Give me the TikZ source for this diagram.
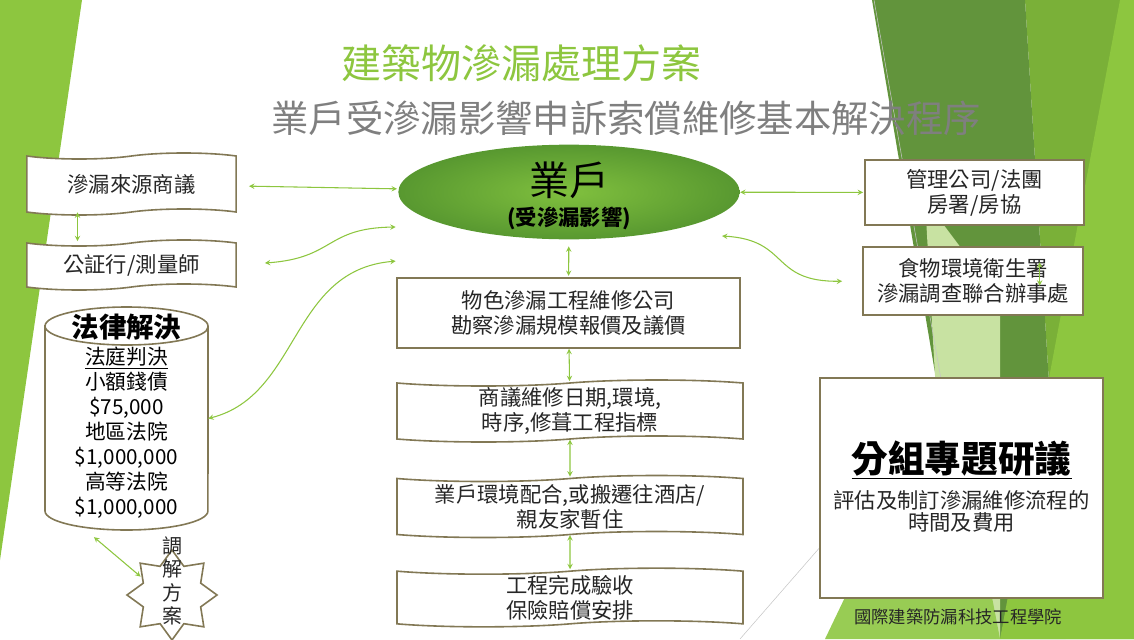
\documentclass[tikz,border=0pt]{standalone}
\usepackage{fontspec}
\setmainfont{Noto Sans CJK TC}
\usetikzlibrary{arrows, positioning, shapes.geometric, shapes.symbols}

\definecolor{leaf}{RGB}{141,198,63}
\definecolor{midleaf}{RGB}{122,176,56}
\definecolor{darkleaf}{RGB}{98,148,60}
\definecolor{paleleaf}{RGB}{200,226,162}
\definecolor{softleaf}{RGB}{152,204,84}
\definecolor{khaki}{RGB}{130,120,85}
\definecolor{ink}{RGB}{38,38,38}
\definecolor{slate}{RGB}{127,127,127}

\begin{document}
\begin{tikzpicture}[
	x = 0.75pt, y = -0.75pt, % one unit = one pixel of the slide
	> = stealth, % arrow head style
	shorten > = 1pt, % don't touch arrow head to node
	semithick % line style
	]
	
	\tikzstyle{box}=[
	draw = khaki,
	line width = 1.2pt,
	fill = white,
	text = ink,
	align = center,
	inner sep = 0pt,
	font = \fontsize{16}{18.75}\selectfont
	]
	\tikzstyle{wave}=[box, tape, tape bend height = 4.5pt]
	\tikzstyle{link}=[<->, color = leaf, line width = 0.8pt]
	
	\useasboundingbox (0,0) rectangle (1134,639);
	
	% background facets
	\fill[leaf] (0,0) -- (82,0) -- (0,560) -- cycle;
	\fill[midleaf] (1025,0) -- (1134,0) -- (1134,639) -- (1065,639) -- cycle;
	\fill[darkleaf] (872,0) -- (1025,0) -- (1065,639) -- (980,639) -- cycle;
	\fill[paleleaf] (925,200) -- (1000,300) -- (1000,639) -- (950,639) -- cycle;
	\fill[softleaf] (825,639) -- (950,378) -- (1000,639) -- cycle;
	\fill[leaf] (1120,0) -- (1134,0) -- (1134,639) -- (1000,639) -- cycle;
	\draw[gray!45, line width = 0.4pt] (874,0) -- (950,430);
	\draw[gray!45, line width = 0.4pt] (740,639) -- (835,530);
	
	\node[text = leaf, font = \fontsize{30}{36}\selectfont] (title) at (521,63) {建築物滲漏處理方案};
	\node[text = slate, font = \fontsize{28}{34}\selectfont] (subtitle) at (626,118) {業戶受滲漏影響申訴索償維修基本解決程序};
	
	\node[ellipse, minimum width = 256pt, minimum height = 71pt, inner color = {rgb,255:red,128;green,192;blue,62}, outer color = {rgb,255:red,88;green,152;blue,48}] (owner) at (569,192) {};
	\node[text = black, font = \fontsize{30}{34}\selectfont] (ownername) at (569,180) {業戶};
	\node[text = black, font = \bfseries\fontsize{16}{19}\selectfont] (ownernote) at (569,218) {(受滲漏影響)};
	
	\node[box, minimum width = 257pt, minimum height = 52.5pt] (firm) at (568.5,313) {物色滲漏工程維修公司\\勘察滲漏規模報價及議價};
	\node[wave, minimum width = 259.5pt, minimum height = 46.5pt] (schedule) at (570,411) {商議維修日期,環境,\\時序,修葺工程指標};
	\node[wave, minimum width = 259.5pt, minimum height = 46.5pt] (relocate) at (570,506.5) {業戶環境配合,或搬遷往酒店/\\親友家暫住};
	\node[wave, minimum width = 259.5pt, minimum height = 44pt] (handover) at (570,597.5) {工程完成驗收\\保險賠償安排};
	
	\node[wave, minimum width = 157pt, minimum height = 46.5pt] (source) at (131.5,184) {滲漏來源商議};
	\node[wave, minimum width = 157pt, minimum height = 37.5pt] (survey) at (131.5,265) {公証行/測量師};
	
	% legal drum
	\node[minimum width = 122pt, minimum height = 167pt, inner sep = 0pt] (law) at (126.5,418.5) {};
	\filldraw[draw = khaki, fill = white, line width = 1.2pt] (45,326) -- (45,511) arc[start angle = 180, end angle = 360, x radius = 61.1pt, y radius = 14.25pt] -- (208,326) arc[start angle = 0, end angle = 180, x radius = 61.1pt, y radius = 14.25pt] -- cycle;
	\draw[khaki, line width = 1.2pt] (45,326) arc[start angle = 180, end angle = 360, x radius = 61.1pt, y radius = 14.25pt];
	\node[text = black, font = \bfseries\fontsize{20.6}{24}\selectfont] (lawtitle) at (126.5,327) {法律解決};
	\node[text = black, align = center, font = \fontsize{15.5}{18.75}\selectfont] (lawlist) at (126.5,432.5) {\underline{法庭判決}\\小額錢債\\\$75,000\\地區法院\\\$1,000,000\\高等法院\\\$1,000,000};
	
	\node[star, star points = 8, star point ratio = 1.45, minimum size = 67.5pt, inner sep = 0pt, draw = khaki, line width = 1.2pt, fill = white] (mediate) at (172,595) {};
	\node[text = ink, align = center, font = \fontsize{15}{17.6}\selectfont] (mediatetext) at (172,581) {調\\解\\方\\案};
	
	\node[box, minimum width = 164pt, minimum height = 48.75pt] (mgmt) at (974.5,192.5) {管理公司/法團\\房署/房協};
	\node[box, minimum width = 165pt, minimum height = 51pt] (fehd) at (973,281) {食物環境衛生署\\滲漏調查聯合辦事處};
	\node[box, minimum width = 212pt, minimum height = 165pt] (group) at (961.5,488) {};
	\node[text = black, font = \bfseries\fontsize{27.5}{32}\selectfont] (grouptitle) at (961.5,460) {\underline{分組專題研議}};
	\node[text = ink, align = center, font = \fontsize{16}{16.5}\selectfont] (grouptext) at (961.5,511) {評估及制訂滲漏維修流程的\\時間及費用};
	\node[text = ink, font = \fontsize{13}{15}\selectfont] (school) at (958,617) {國際建築防漏科技工程學院};
	
	\coordinate (l1) at (397,227);
	\coordinate (l2) at (397,261);
	\coordinate (r1) at (722,236);
	
	\path[link, shorten <= 9pt] (source) edge (owner);
	\path[link] (owner) edge (mgmt);
	\draw[link, shorten <= 21pt] (survey.east) .. controls (335,258) and (325,228) .. (l1);
	\draw[link] (law.east) .. controls (300,395) and (290,270) .. (l2);
	\draw[link, shorten > = 15pt] (r1) .. controls (790,240) and (770,282) .. (fehd.west);
	
	\path[link, shorten <= 5pt] (owner) edge (firm);
	\path[link] (firm) edge (schedule);
	\path[link] (schedule) edge (relocate);
	\path[link] (relocate) edge (handover);
	
	\path[link] ([xshift = -40.5pt]source.south) edge ([xshift = -40.5pt]survey.north);
	\path[link, shorten <= 8pt] (law.250) edge (mediate.150);
	\path[link] ([xshift = 50pt, yshift = 14pt]fehd.center) edge ([xshift = 50pt, yshift = -4.5pt]fehd.center);
	
\end{tikzpicture}
\end{document}
